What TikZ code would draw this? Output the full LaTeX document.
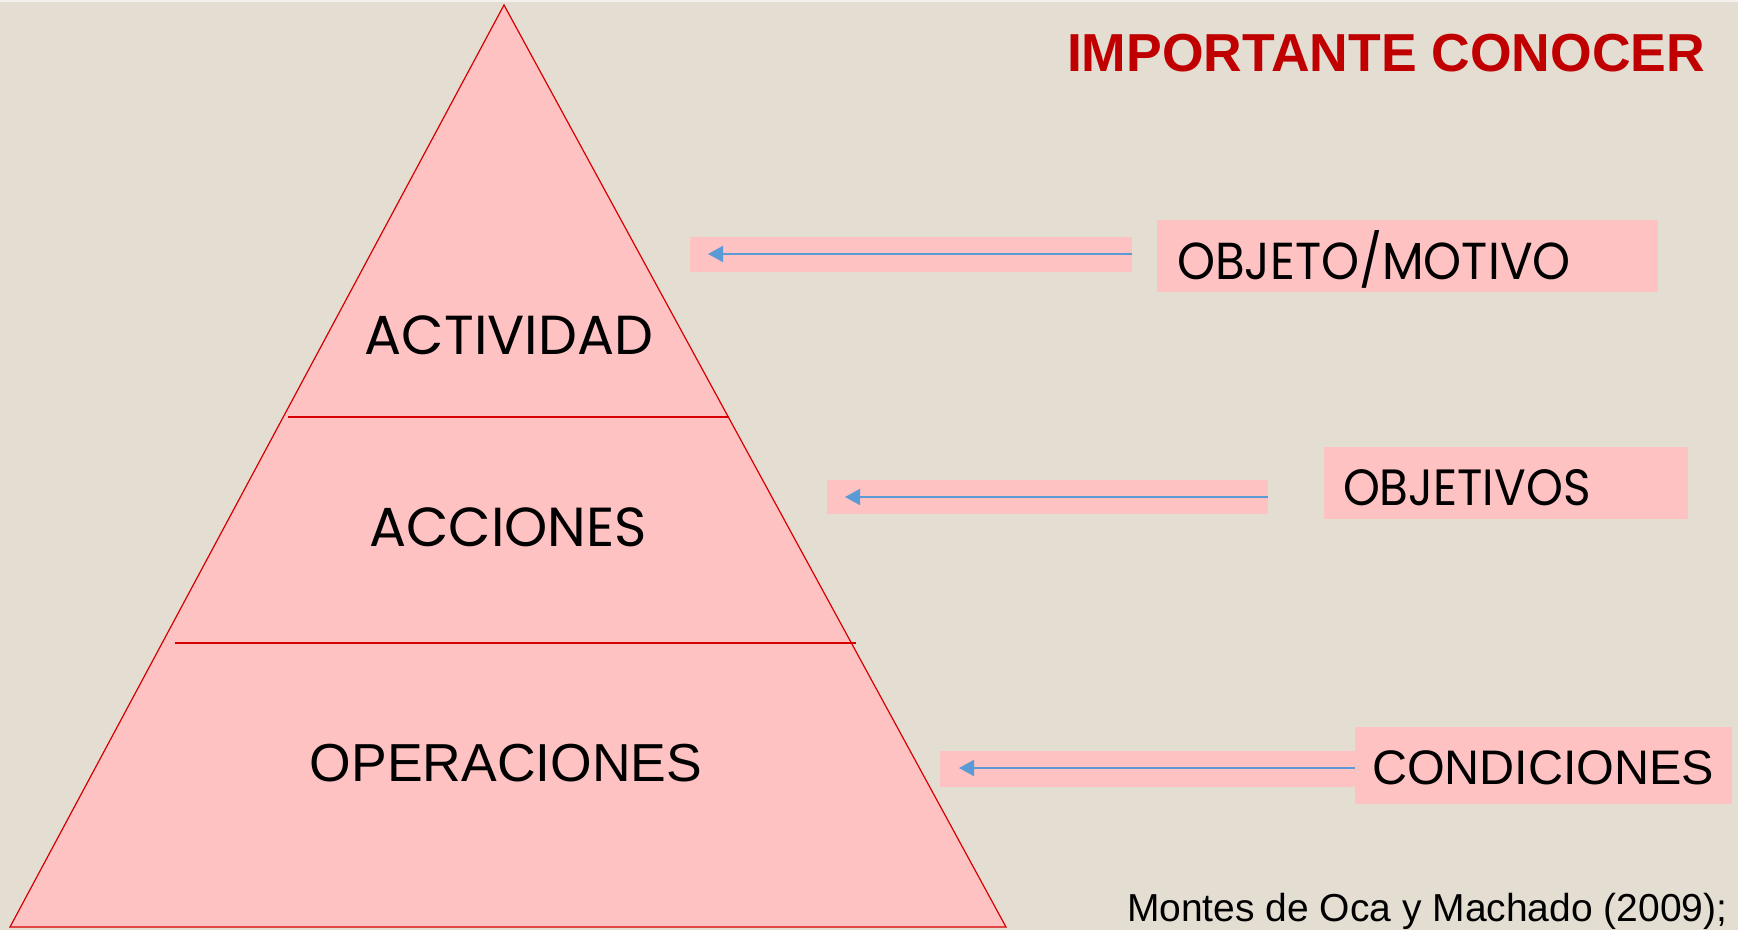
\documentclass[tikz,border=0pt]{standalone}
\usepackage{fontspec}
\setmainfont{Liberation Sans}
\newfontfamily\gothic{Poppins}
\usetikzlibrary{arrows.meta}
\definecolor{bg}{RGB}{227,221,210}
\definecolor{pinkfill}{RGB}{255,194,194}
\definecolor{redline}{RGB}{214,0,0}
\definecolor{titlered}{RGB}{192,0,0}
\definecolor{arrowblue}{RGB}{91,155,213}
\begin{document}
\begin{tikzpicture}[x=1pt,y=-1pt,
  band/.style={fill=pinkfill,draw=none},
  label/.style={fill=pinkfill,draw=none},
  txt/.style={inner sep=0pt,outer sep=0pt,text=black},
  connector/.style={draw=arrowblue,line width=1.6pt,-{Triangle[length=15pt,width=16pt]}},
  divider/.style={draw=redline,line width=1.3pt}]
% background
\fill[bg] (0,0) rectangle (1738,930);
\fill[white!60!bg] (0,0) rectangle (1738,2);
\useasboundingbox (0,0) rectangle (1738,930);
% pyramid
\coordinate (apex) at (504,5);
\coordinate (bl) at (10,927);
\coordinate (br) at (1006,927);
\filldraw[fill=pinkfill,draw=redline,line width=1.2pt,line join=miter] (apex) -- (br) -- (bl) -- cycle;
\coordinate (d1l) at (288,417);
\coordinate (d1r) at (729,417);
\coordinate (d2l) at (175,643);
\coordinate (d2r) at (856,643);
\draw[divider] (d1l) -- (d1r);
\draw[divider] (d2l) -- (d2r);
% level labels
\node[txt,anchor=base,font=\gothic\fontsize{55}{62}\selectfont] (act) at (509,354) {ACTIVIDAD};
\node[txt,anchor=base,font=\gothic\fontsize{55}{62}\selectfont] (acc) at (508,546) {ACCIONES};
\node[txt,anchor=base,font=\fontsize{53.5}{60}\selectfont] (ope) at (506,781) {OPERACIONES};
% title
\node[txt,anchor=base west,text=titlered,font=\bfseries\fontsize{53.5}{60}\selectfont] (title) at (1067,71) {IMPORTANTE CONOCER};
% right boxes
\path[label] (1157,220) rectangle (1658,292);
\node[txt,anchor=base west,xscale=0.93,font=\gothic\fontsize{52}{60}\selectfont] (obj) at (1177,279) {OBJETO/MOTIVO};
\path[label] (1324,447) rectangle (1688,519);
\node[txt,anchor=base west,xscale=0.92,font=\gothic\fontsize{51}{60}\selectfont] (objv) at (1343,505) {OBJETIVOS};
\path[label] (1355,727) rectangle (1732,804);
\node[txt,anchor=base west,font=\fontsize{48.5}{56}\selectfont] (cond) at (1372,784) {CONDICIONES};
% arrow bands
\path[band] (690,237) rectangle (1132,272);
\coordinate (s1) at (1132,254);
\coordinate (t1) at (708,254);
\path[band] (827,480) rectangle (1268,514);
\coordinate (s2) at (1268,497);
\coordinate (t2) at (845,497);
\path[band] (940,751) rectangle (1355,787);
\coordinate (s3) at (1355,768);
\coordinate (t3) at (959,768);
\draw[connector] (s1) -- (t1);
\draw[connector] (s2) -- (t2);
\draw[connector] (s3) -- (t3);
% citation
\node[txt,anchor=base west,font=\fontsize{39}{46}\selectfont] (cite) at (1127,921) {Montes de Oca y Machado (2009);};
\end{tikzpicture}
\end{document}
